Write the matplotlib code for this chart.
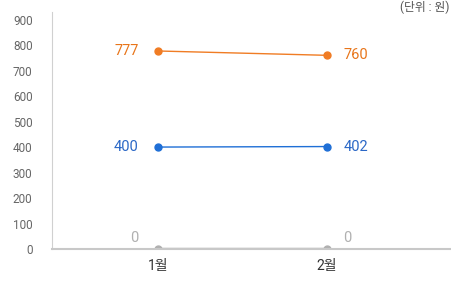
import matplotlib.pyplot as plt

plt.rcParams['font.family'] = ['Roboto', 'Noto Sans CJK KR', 'DejaVu Sans']

months = ["1월", "2월"]
series_orange = [777, 760]
series_blue = [400, 402]
series_gray = [0, 0]
y_ticks = [0, 100, 200, 300, 400, 500, 600, 700, 800, 900]

fig = plt.figure(figsize=(4.51, 2.84), dpi=100)
ax = fig.add_axes([52 / 451, 35 / 284, 399 / 451, 237 / 284])

x = range(len(months))
ax.plot(x, series_gray, color="#b0b0b0", lw=2.5, marker="o", ms=5, zorder=2)
ax.plot(x, series_orange, color="#f07c24", lw=1, marker="o", ms=5, zorder=3)
ax.plot(x, series_blue, color="#1f6fd6", lw=1, marker="o", ms=5, zorder=3)

# data labels: left of the first point, right of the second
def label(xi, v, color, dy=0):
    off = -14 if xi == 0 else 12
    ax.annotate(str(v), (xi, v), xytext=(off, dy), textcoords="offset points",
                ha="right" if xi == 0 else "left", va="center", color=color, fontsize=10.5)

for xi, v in zip(x, series_orange):
    label(xi, v, "#e8751a")
for xi, v in zip(x, series_blue):
    label(xi, v, "#2a67c6")
for xi, v in zip(x, series_gray):
    label(xi, v, "#b0b0b0", dy=8)

ax.set_xlim(-0.627, 1.734)
ax.set_ylim(0, 930)
ax.set_yticks(y_ticks)
ax.set_yticklabels([str(t) for t in y_ticks], fontsize=8.5, color="#666666")
ax.set_xticks(list(x))
ax.set_xticklabels(months, fontsize=10, color="#333333")
ax.tick_params(axis="both", length=0)
ax.tick_params(axis="y", pad=14)
ax.tick_params(axis="x", pad=7)

for s in ["top", "right"]:
    ax.spines[s].set_visible(False)
ax.spines["left"].set_color("#d0d0d0")
ax.spines["bottom"].set_color("#c8c8c8")
ax.spines["bottom"].set_linewidth(1.5)

fig.text(0.997, 0.997, "(단위 : 원)", ha="right", va="top", fontsize=8.5, color="#555555")

fig.savefig("out.png", dpi=100)
plt.close(fig)
